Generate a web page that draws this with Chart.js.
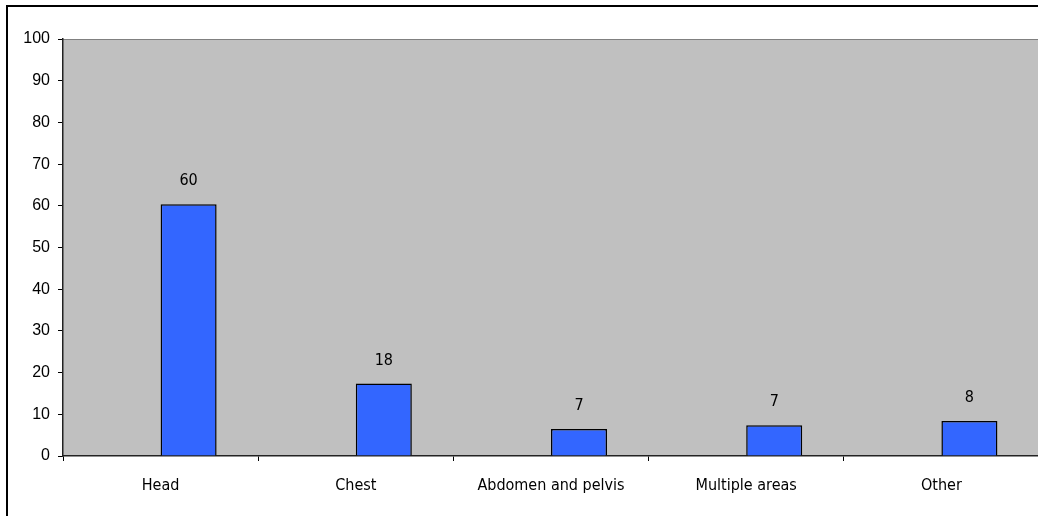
<!DOCTYPE html>
<html>
<head>
<meta charset="utf-8">
<script src="https://cdn.jsdelivr.net/npm/chart.js@4.4.1/dist/chart.umd.min.js"></script>
<style>
  html, body { margin: 0; padding: 0; background: #fff; overflow: hidden; }
  #frame {
    position: absolute; left: 6px; top: 5px;
    width: 1040px; height: 520px;
    border-left: 2px solid #000; border-top: 2px solid #000;
  }
  #chart { display: block; }
</style>
</head>
<body>
<div id="frame"><canvas id="chart" width="1040" height="520"></canvas></div>
<script>
const categories = ['Head', 'Chest', 'Abdomen and pelvis', 'Multiple areas', 'Other'];
const values = [60.4, 17.4, 6.5, 7.4, 8.4];
const valueLabels = ['60', '18', '7', '7', '8'];
const yTicks = [0, 10, 20, 30, 40, 50, 60, 70, 80, 90, 100];
// the original has an empty first series, so the bars sit right of centre
const emptySeries = [null, null, null, null, null];

const labelFont = '16px "DejaVu Sans Condensed", "DejaVu Sans", sans-serif';

// grey plot background
const plotBg = {
    id: 'plotBg',
    beforeDraw(chart) {
        const a = chart.chartArea;
        const ctx = chart.ctx;
        ctx.save();
        ctx.fillStyle = '#c0c0c0';
        ctx.fillRect(a.left, a.top, a.right - a.left, a.bottom - a.top);
        ctx.strokeStyle = '#808080';
        ctx.lineWidth = 1;
        ctx.beginPath();
        ctx.moveTo(a.left, a.top + 0.5);
        ctx.lineTo(a.right, a.top + 0.5);
        ctx.stroke();
        ctx.restore();
    }
};

// value labels above bars
const barLabels = {
    id: 'barLabels',
    afterDatasetsDraw(chart) {
        const ctx = chart.ctx;
        const meta = chart.getDatasetMeta(1);
        ctx.save();
        ctx.font = labelFont;
        ctx.fillStyle = '#000';
        ctx.textAlign = 'center';
        ctx.textBaseline = 'middle';
        meta.data.forEach((bar, i) => {
            ctx.fillText(valueLabels[i], bar.x, bar.y - 23);
        });
        ctx.restore();
    }
};

new Chart(document.getElementById('chart'), {
    type: 'bar',
    data: {
        labels: categories,
        datasets: [{
            data: emptySeries,
            backgroundColor: 'rgba(0,0,0,0)',
            categoryPercentage: 0.574,
            barPercentage: 1
        }, {
            data: values,
            backgroundColor: '#3366ff',
            borderColor: '#000',
            borderWidth: 1.5,
            categoryPercentage: 0.574,
            barPercentage: 1
        }]
    },
    options: {
        responsive: false,
        animation: false,
        layout: { padding: { top: 32, right: 9, left: 0, bottom: 0 } },
        plugins: { legend: { display: false }, tooltip: { enabled: false } },
        scales: {
            x: {
                offset: true,
                grid: { display: true, offset: true, drawOnChartArea: false, tickLength: 5, color: '#000' },
                border: { color: '#222', width: 1.5 },
                ticks: { color: '#000', font: { family: '"DejaVu Sans Condensed", "DejaVu Sans", sans-serif', size: 16 }, padding: 15, maxRotation: 0 },
                afterFit(scale) { scale.height = 71; }
            },
            y: {
                min: 0,
                max: 100,
                afterBuildTicks(scale) { scale.ticks = yTicks.map(v => ({ value: v })); },
                grid: { display: true, drawOnChartArea: false, tickLength: 5, color: '#000' },
                border: { color: '#222', width: 1.5 },
                ticks: { color: '#000', font: { family: '"Liberation Sans", Arial, sans-serif', size: 16 }, padding: 8 },
                afterFit(scale) { scale.width = 55; }
            }
        }
    },
    plugins: [plotBg, barLabels]
});
</script>
</body>
</html>
